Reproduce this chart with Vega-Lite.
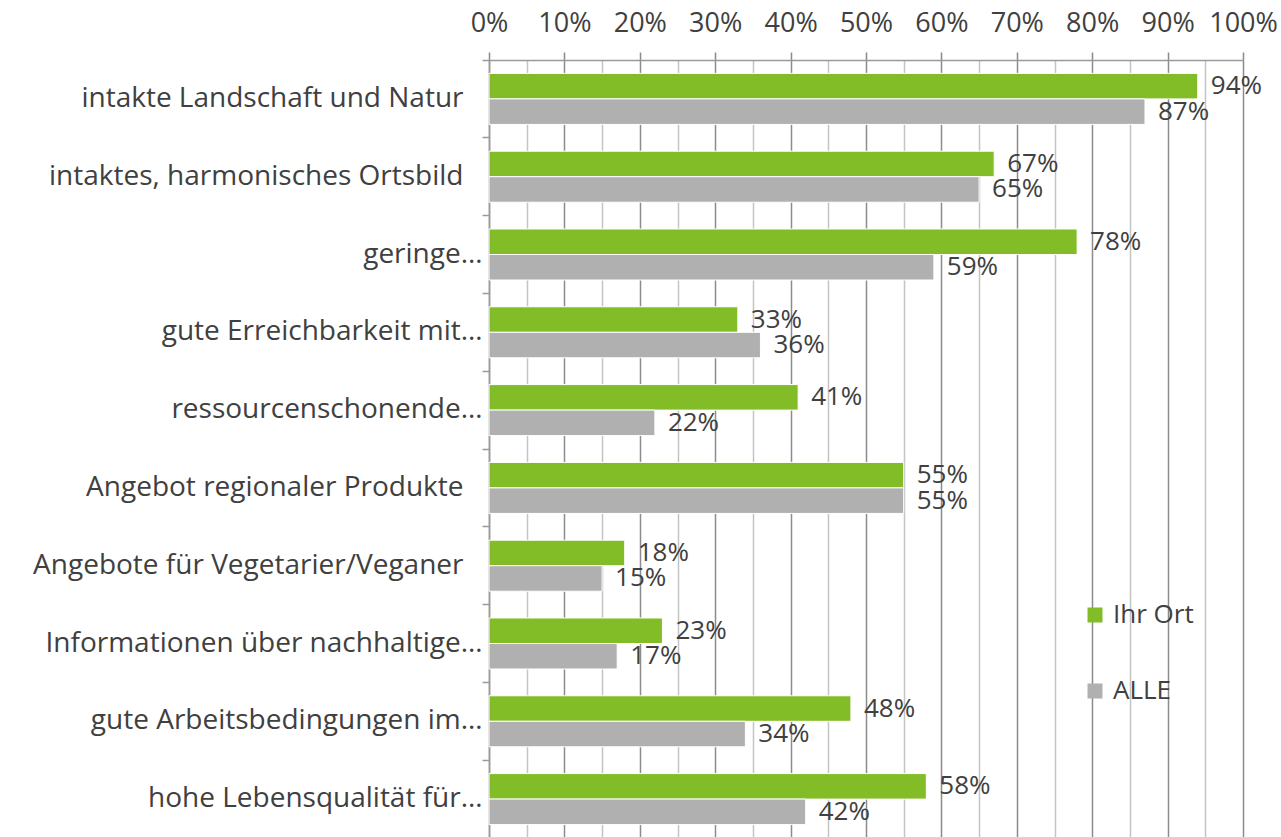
{
  "$schema": "https://vega.github.io/schema/vega-lite/v6.json",
  "width": 754,
  "height": 778,
  "autosize": {"type": "none"},
  "padding": {"left": 489, "top": 60, "right": 38, "bottom": 0},
  "background": "white",
  "config": {"view": {"stroke": null}, "font": "Open Sans"},
  "data": {
    "values": [
      {"kategorie": "intakte Landschaft und Natur", "serie": "Ihr Ort", "wert": 0.94},
      {"kategorie": "intakte Landschaft und Natur", "serie": "ALLE", "wert": 0.87},
      {"kategorie": "intaktes, harmonisches Ortsbild", "serie": "Ihr Ort", "wert": 0.67},
      {"kategorie": "intaktes, harmonisches Ortsbild", "serie": "ALLE", "wert": 0.65},
      {"kategorie": "geringe…", "serie": "Ihr Ort", "wert": 0.78},
      {"kategorie": "geringe…", "serie": "ALLE", "wert": 0.59},
      {"kategorie": "gute Erreichbarkeit mit…", "serie": "Ihr Ort", "wert": 0.33},
      {"kategorie": "gute Erreichbarkeit mit…", "serie": "ALLE", "wert": 0.36},
      {"kategorie": "ressourcenschonende…", "serie": "Ihr Ort", "wert": 0.41},
      {"kategorie": "ressourcenschonende…", "serie": "ALLE", "wert": 0.22},
      {"kategorie": "Angebot regionaler Produkte", "serie": "Ihr Ort", "wert": 0.55},
      {"kategorie": "Angebot regionaler Produkte", "serie": "ALLE", "wert": 0.55},
      {"kategorie": "Angebote für Vegetarier/Veganer", "serie": "Ihr Ort", "wert": 0.18},
      {"kategorie": "Angebote für Vegetarier/Veganer", "serie": "ALLE", "wert": 0.15},
      {"kategorie": "Informationen über nachhaltige…", "serie": "Ihr Ort", "wert": 0.23},
      {"kategorie": "Informationen über nachhaltige…", "serie": "ALLE", "wert": 0.17},
      {"kategorie": "gute Arbeitsbedingungen im…", "serie": "Ihr Ort", "wert": 0.48},
      {"kategorie": "gute Arbeitsbedingungen im…", "serie": "ALLE", "wert": 0.34},
      {"kategorie": "hohe Lebensqualität für…", "serie": "Ihr Ort", "wert": 0.58},
      {"kategorie": "hohe Lebensqualität für…", "serie": "ALLE", "wert": 0.42}
    ]
  },
  "encoding": {
    "y": {
      "field": "kategorie",
      "type": "nominal",
      "sort": null,
      "scale": {"paddingInner": 0, "paddingOuter": 0},
      "axis": {
        "title": null,
        "bandPosition": 0,
        "labelFontSize": 28,
        "labelColor": "#404040",
        "labelPadding": {"condition": {"test": "indexof(datum.value, '…') < 0", "value": 19}, "value": 0},
        "labelLimit": 480,
        "tickSize": 7,
        "tickColor": "#9a9a9a",
        "tickWidth": 1.5,
        "domainColor": "#9a9a9a",
        "domainWidth": 1.5,
        "grid": false
      }
    },
    "yOffset": {
      "field": "serie",
      "type": "nominal",
      "sort": ["Ihr Ort", "ALLE"],
      "scale": {"paddingInner": 0, "paddingOuter": 0.525}
    },
    "x": {
      "field": "wert",
      "type": "quantitative",
      "scale": {"domain": [0, 1], "nice": false},
      "axis": {
        "orient": "top",
        "title": null,
        "format": ".0%",
        "values": [0, 0.05, 0.1, 0.15, 0.2, 0.25, 0.3, 0.35, 0.4, 0.45, 0.5, 0.55, 0.6, 0.65, 0.7, 0.75, 0.8, 0.85, 0.9, 0.95, 1],
        "labelExpr": "round(datum.value*100) % 10 === 0 ? datum.label : ''",
        "labelOverlap": false,
        "labelFlush": false,
        "labelFontSize": 27,
        "labelColor": "#404040",
        "labelPadding": 15,
        "tickSize": 8,
        "tickWidth": 1.5,
        "tickColor": {"condition": {"test": "round(datum.value*100) % 10 === 0", "value": "#8a8a8a"}, "value": "transparent"},
        "domainColor": "#9a9a9a",
        "domainWidth": 1.5,
        "grid": true,
        "gridColor": {"condition": {"test": "round(datum.value*100) % 10 === 0", "value": "#8c8c8c"}, "value": "#c4c4c4"},
        "gridWidth": 1.5
      }
    }
  },
  "layer": [
    {
      "mark": {"type": "bar", "stroke": "white", "strokeWidth": 1},
      "encoding": {
        "color": {
          "field": "serie",
          "type": "nominal",
          "sort": ["Ihr Ort", "ALLE"],
          "scale": {"domain": ["Ihr Ort", "ALLE"], "range": ["#82bc26", "#b0b0b0"]},
          "legend": {
            "title": null,
            "orient": "none",
            "legendX": 593,
            "legendY": 542,
            "symbolType": "square",
            "symbolSize": 225,
            "symbolStrokeWidth": 0,
            "labelFontSize": 26,
            "labelColor": "#404040",
            "labelOffset": 5,
            "rowPadding": 50
          }
        }
      }
    },
    {
      "mark": {"type": "text", "align": "left", "baseline": "middle", "dx": 13, "fontSize": 26, "color": "#404040"},
      "encoding": {
        "text": {"field": "wert", "type": "quantitative", "format": ".0%"}
      }
    }
  ]
}
